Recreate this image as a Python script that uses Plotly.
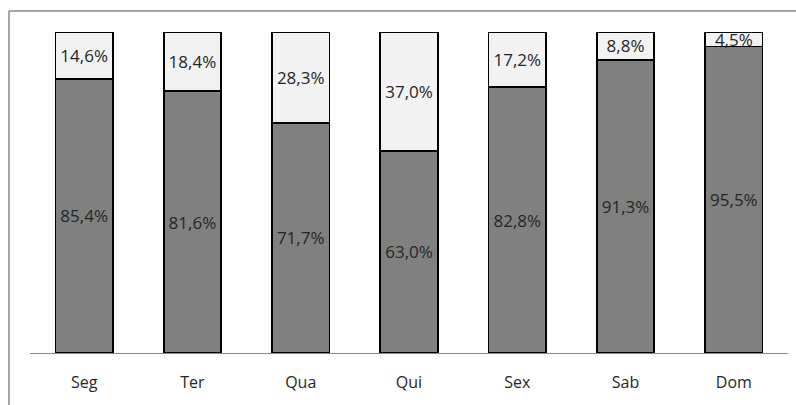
import plotly.graph_objects as go

# Dias da semana e participação percentual de cada grupo
dias = ["Seg", "Ter", "Qua", "Qui", "Sex", "Sab", "Dom"]
base = [85.4, 81.6, 71.7, 63.0, 82.8, 91.3, 95.5]
topo = [14.6, 18.4, 28.3, 37.0, 17.2, 8.8, 4.5]


def rotulo(v):
    return f"{v:.1f}%".replace(".", ",")


fonte = "Open Sans, Noto Sans, sans-serif"

fig = go.Figure()
for valores, cor in [(base, "#808080"), (topo, "#F2F2F2")]:
    fig.add_trace(go.Bar(
        x=dias,
        y=valores,
        marker=dict(color=cor, line=dict(color="#000000", width=1.8)),
        text=[rotulo(v) for v in valores],
        textposition="inside",
        insidetextanchor="middle",
        constraintext="none",
        textfont=dict(family=fonte, size=17, color="#262626"),
        width=0.53,
        showlegend=False,
        hoverinfo="skip",
    ))

fig.update_layout(
    barmode="stack",
    width=796,
    height=405,
    margin=dict(l=30, r=8, t=32, b=52),
    paper_bgcolor="white",
    plot_bgcolor="white",
    uniformtext=dict(minsize=17, mode="show"),
    xaxis=dict(
        showline=True, linecolor="#8a8a8a", linewidth=1,
        ticks="", showgrid=False,
        tickfont=dict(family=fonte, size=16, color="#262626"),
        ticklabelstandoff=15,
    ),
    yaxis=dict(range=[0, 100], visible=False, showgrid=False),
    shapes=[
        dict(type="line", xref="paper", yref="paper",
             x0=-21 / 758, x1=766 / 758, y0=1 + 21 / 321, y1=1 + 21 / 321,
             line=dict(color="#8a8a8a", width=1.5)),
        dict(type="line", xref="paper", yref="paper",
             x0=-21 / 758, x1=-21 / 758, y0=1 + 21 / 321, y1=-52 / 321,
             line=dict(color="#8a8a8a", width=1.5)),
    ],
)

fig.write_html("out.html")
